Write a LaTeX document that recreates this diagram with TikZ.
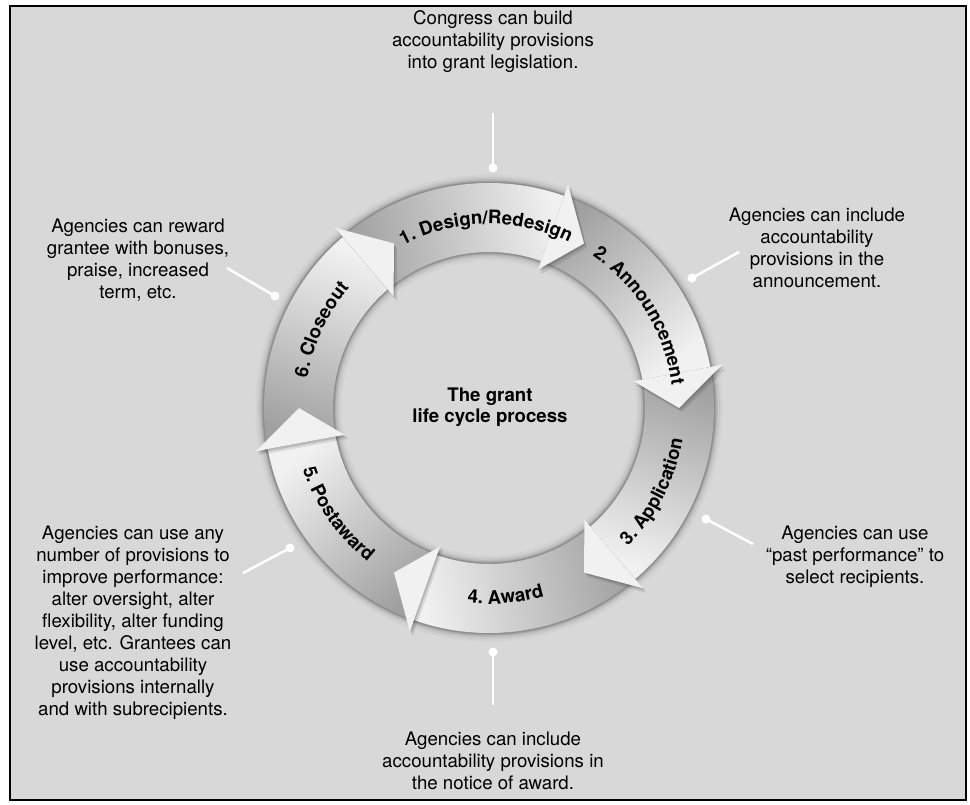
\documentclass[tikz,border=0pt]{standalone}
\usepackage{fontspec}
\setmainfont{TeX Gyre Heros}
\usetikzlibrary{decorations.text}
\definecolor{bg}{RGB}{216,216,216}
\definecolor{headc}{RGB}{241,241,241}
\definecolor{tailc}{RGB}{160,160,160}
\newcommand\lblfont{\fontsize{14}{16}\selectfont\bfseries}
\begin{document}
\begin{tikzpicture}[x=0.75pt,y=-0.75pt,
  note/.style={align=center, font=\fontsize{14}{16.5}\selectfont, inner sep=0pt},
  title/.style={align=center, font=\fontsize{14}{16}\selectfont\bfseries, inner sep=0pt},
  lead/.style={white, line width=1.9pt},
  leaddot/.style={white},
  arclabel/.style={decorate, decoration={text along path, text align=center, text={|\lblfont|#1}}}]
\useasboundingbox (0,0) rectangle (970,804);
\fill[white] (0,0) rectangle (970,804);
\draw[fill=bg, line width=1.1pt] (10,6) rectangle (966,800);

\begin{scope}[shift={(489,408)}]
  % soft shadow around the ring
  \foreach \w/\o in {12pt/0.03, 8pt/0.05, 5pt/0.07, 3pt/0.09, 1.5pt/0.14}{
    \draw[black, opacity=\o, line width=\w] (0,0) circle[radius=225.5];
    \draw[black, opacity=\o, line width=\w] (0,0) circle[radius=155.5];
  }
  % arrow bodies
  \foreach \a/\b in {229.5/289.5, 289.5/349.5, 349.5/409.5, 49.5/109.5, 109.5/169.5, 169.5/229.5}{
    \pgfmathsetmacro\ang{-(\a+\b)/2-180}
    \path[top color=headc, bottom color=tailc, shading angle=\ang]
      (\a:225) arc[start angle=\a, end angle=\b, radius=225]
      -- (\b:156) arc[start angle=\b, end angle=\a, radius=156] -- cycle;
  }
  % head shadows
  \foreach \t in {300,360,420,480,540,600}{
    \pgfmathsetmacro\bs{\t-10.5}
    \fill[black, opacity=0.10, shift={(3,4)}] (\bs:238) -- (\t:190) -- (\bs:146) -- cycle;
    \fill[black, opacity=0.14, shift={(1.5,2)}] (\bs:237) -- (\t:190) -- (\bs:147) -- cycle;
  }
  % heads
  \foreach \t in {300,360,420,480,540,600}{
    \pgfmathsetmacro\bs{\t-10.5}
    \fill[headc] (\bs:237) -- (\t:190) -- (\bs:147) -- cycle;
  }
  % labels along the ring
  \path[arclabel={1. Design/Redesign}] (-136:184) arc[start angle=-136, end angle=-46, radius=184];
  \path[arclabel={2. Announcement}] (-76:184) arc[start angle=-76, end angle=13, radius=184];
  \path[arclabel={3. Application}] (72:196) arc[start angle=72, end angle=-18, radius=196];
  \path[arclabel={4. Award}] (130:196) arc[start angle=130, end angle=40, radius=196];
  \path[arclabel={5. Postaward}] (190:196) arc[start angle=190, end angle=100, radius=196];
  \path[arclabel={6. Closeout}] (160:184) arc[start angle=160, end angle=250, radius=184];
\end{scope}

\node[title] (center) at (490,407.5) {The grant\\life cycle process};

% annotation texts
\node[note] (t1) at (493,42) {Congress can build\\accountability provisions\\into grant legislation.};
\node[note] (t2) at (817,247.5) {Agencies can include\\accountability\\provisions in the\\announcement.};
\node[note] (t3) at (855,556.5) {Agencies can use\\“past performance” to\\select recipients.};
\node[note] (t4) at (493,761) {Agencies can include\\accountability provisions in\\the notice of award.};
\node[note] (t5) at (133,622.5) {Agencies can use any\\number of provisions to\\improve performance:\\alter oversight, alter\\flexibility, alter funding\\level, etc. Grantees can\\use accountability\\provisions internally\\and with subrecipients.};
\node[note] (t6) at (138,260.5) {Agencies can reward\\grantee with bonuses,\\praise, increased\\term, etc.};

% connectors
\coordinate (d1) at (493,168); \coordinate (e1) at (493,113);
\coordinate (d2) at (692,278); \coordinate (e2) at (739,252);
\coordinate (d3) at (706,519); \coordinate (e3) at (753,544);
\coordinate (d4) at (493,652); \coordinate (e4) at (493,705);
\coordinate (d5) at (290,548); \coordinate (e5) at (243,573);
\coordinate (d6) at (275,296); \coordinate (e6) at (227,268);
\foreach \i in {1,...,6}{
  \draw[lead] (d\i) -- (e\i);
  \fill[leaddot] (d\i) circle[radius=4.5];
}
\end{tikzpicture}
\end{document}
